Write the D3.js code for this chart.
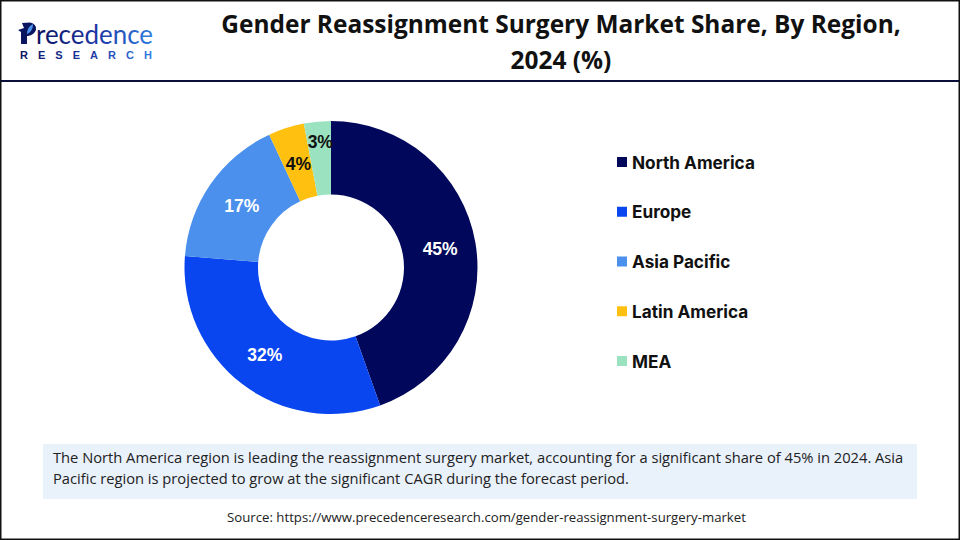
<!DOCTYPE html>
<html><head><meta charset="utf-8">
<script src="https://cdn.jsdelivr.net/npm/d3@7"></script>
<style>html,body{margin:0;padding:0;background:#fff}svg{display:block}</style>
</head><body><svg id="c" width="960" height="540"></svg>
<script>
const categories=["North America","Europe","Asia Pacific","Latin America","MEA"];
const shares=[45,32,17,4,3];
const colors=["#01075a","#0a46f0","#4a90ec","#ffc010","#9be3c0"];
const labelColors=["#ffffff","#ffffff","#ffffff","#111111","#111111"];
const titleLines=["Gender Reassignment Surgery Market Share, By Region,","2024 (%)"];
const noteLines=["The North America region is leading the reassignment surgery market, accounting for a significant share of 45% in 2024. Asia","Pacific region is projected to grow at the significant CAGR during the forecast period."];
const source="Source: https://www.precedenceresearch.com/gender-reassignment-surgery-market";

const svg=d3.select("#c");
const font="'Liberation Sans',Arial,sans-serif";
svg.append("rect").attr("x",.75).attr("y",.75).attr("width",958.5).attr("height",538.5).attr("fill","#fff").attr("stroke","#111").attr("stroke-width",1.5);
svg.append("rect").attr("x",1).attr("y",80).attr("width",958).attr("height",2).attr("fill","#0a0f3c");

// logo
const defs=svg.append("defs");
const g=defs.append("linearGradient").attr("id","lg").attr("x1",0).attr("x2",1).attr("y1",0).attr("y2",0);
g.append("stop").attr("offset",0).attr("stop-color","#0a1560");
g.append("stop").attr("offset",.55).attr("stop-color","#1c3aa8");
g.append("stop").attr("offset",1).attr("stop-color","#2f7fe0");
const logo=svg.append("g");
logo.append("path").attr("d","M18 30 L24 28 L22 23 L30 22.5 Q37 24 36 30 Q34 35 28 36 L27 36 L27 44 L21 44 L21 32 Z").attr("fill","#0a1560");
logo.append("path").attr("d","M27 34 Q27 27 33 24 Q33 30 29 33 Z").attr("fill","#4d93ea");
logo.append("text").attr("x",36).attr("y",43.5).attr("font-family","Lato,sans-serif").attr("font-size",27).attr("textLength",117).attr("lengthAdjust","spacingAndGlyphs").attr("fill","url(#lg)").text("recedence");
logo.append("text").attr("x",20).attr("y",59).attr("font-family",font).attr("font-weight",700).attr("font-size",11).attr("fill","url(#lg)").attr("textLength",132).text("RESEARCH");

svg.selectAll("text.title").data(titleLines).join("text").attr("class","title")
 .attr("x",561).attr("y",(d,i)=>33+i*36).attr("text-anchor","middle")
 .attr("font-family","'Open Sans',sans-serif").attr("font-weight",700).attr("font-size",24.45).attr("fill","#111").text(d=>d);

// donut
const cx=331,cy=267.5,R=146.5,r=73;
const pie=d3.pie().sort(null)(shares);
const arc=d3.arc().innerRadius(r).outerRadius(R);
const chart=svg.append("g").attr("transform",`translate(${cx},${cy})`);
chart.selectAll("path").data(pie).join("path").attr("d",arc).attr("fill",(d,i)=>colors[i]);
const labelOffset=[[1,0.5],[0.5,0.5],[1,0.5],[1,1],[-0.5,-16]];
chart.selectAll("text").data(pie).join("text")
 .attr("transform",(d,i)=>{const c=arc.centroid(d);return `translate(${c[0]+labelOffset[i][0]},${c[1]+labelOffset[i][1]})`;})
 .attr("text-anchor","middle").attr("dy","0.35em")
 .attr("font-family",font).attr("font-weight",700).attr("font-size",17.5)
 .attr("fill",(d,i)=>labelColors[i]).text(d=>d.data+"%");

// legend
const ly=d3.scalePoint().domain(categories).range([162,361]);
const leg=svg.append("g").selectAll("g").data(categories).join("g").attr("transform",d=>`translate(617,${ly(d)})`);
leg.append("rect").attr("x",0).attr("y",-5).attr("width",10).attr("height",10).attr("fill",(d,i)=>colors[i]);
leg.append("text").attr("x",15).attr("dy","0.38em").attr("font-family","'Inter',sans-serif").attr("font-weight",700).attr("font-size",17.2).attr("fill","#111").text(d=>d);

// note
svg.append("rect").attr("x",43).attr("y",444).attr("width",874).attr("height",55).attr("fill","#e9f1fb");
svg.selectAll("text.note").data(noteLines).join("text").attr("class","note")
 .attr("x",53).attr("y",(d,i)=>463+i*21).attr("font-family","'Open Sans',sans-serif").attr("font-size",14.7).attr("fill","#222").text(d=>d);
svg.append("text").attr("x",486.5).attr("y",522).attr("text-anchor","middle").attr("font-family","'Open Sans',sans-serif").attr("font-size",13.2).attr("fill","#222").text(source);
</script></body></html>
